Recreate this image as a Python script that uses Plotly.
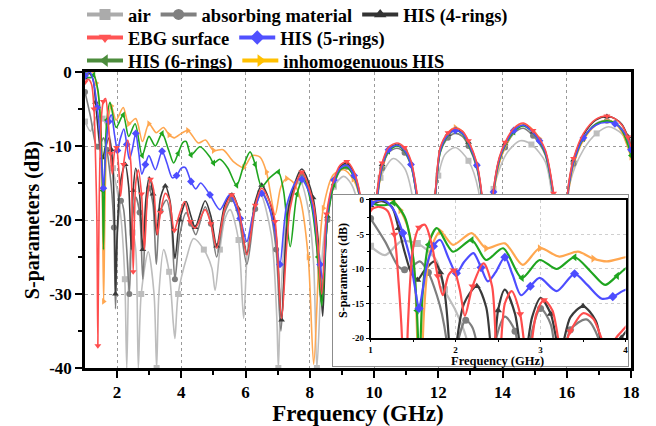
import plotly.graph_objects as go

# ---------------- data ----------------
F_AIR = [1.0,1.17,1.36,1.55,1.66,1.78,1.87,2.0,2.12,2.24,
         2.3,2.37,2.48,2.58,2.66,2.75,2.97,3.15,3.23,3.3,
         3.45,3.62,3.75,3.8,3.9,4.17,4.38,4.7,4.95,5.05,
         5.2,5.36,5.52,5.78,5.94,6.1,6.45,6.8,6.97,7.02,
         7.1,7.39,7.7,7.95,8.12,8.22,8.4,8.55,8.75,9.05,
         9.3,9.5,9.75,9.95,10.2,10.6,10.95,11.2,11.45,11.75,
         12.0,12.2,12.53,12.94,13.25,13.45,13.72,14.13,14.55,14.9,
         15.33,15.53,15.8,16.1,16.52,16.93,17.3,17.7,18.0]
S_AIR = [-6.7,-8.0,-6.0,-6.3,-7.2,-8.9,-13,-16,-19.7,-28,
         -40,-27,-21.7,-24,-40,-30,-24.3,-30,-40,-30,
         -24,-27,-34,-36,-30,-25,-22.5,-24,-26.5,-29.5,
         -24,-19.8,-18.6,-22.7,-33.3,-22,-16.4,-22,-33,-40,
         -30,-16.6,-14.8,-18.5,-26,-40,-24,-19,-15.5,-14.1,
         -15.2,-18,-30,-22,-14.3,-11.7,-13.0,-17,-30,-20,
         -14,-11.2,-10.2,-12.0,-16,-28,-15.8,-11,-9.3,-9.8,
         -12.1,-16.4,-30,-15,-10.5,-8.3,-7.4,-8.3,-10.4]

F_ABS = [1.0,1.17,1.33,1.4,1.48,1.58,1.68,1.78,1.84,1.9,
         1.95,2.02,2.12,2.2,2.3,2.38,2.46,2.58,2.7,2.8,
         2.9,3.0,3.12,3.22,3.35,3.54,3.68,3.8,3.95,4.15,
         4.3,4.45,4.74,4.92,5.1,5.35,5.57,5.78,6.04,6.3,
         6.5,6.75,6.95,7.1,7.35,7.75,8.1,8.35,8.55,8.75,
         8.95,9.15,9.38,9.57,9.8,9.95,10.1,10.25,10.45,10.71,
         10.95,11.15,11.33,11.6,11.9,12.06,12.3,12.53,12.75,12.94,
         13.2,13.35,13.55,13.72,13.9,14.08,14.35,14.65,14.95,15.15,
         15.33,15.59,15.8,16.06,16.21,16.52,16.9,17.25,17.5,17.72,
         17.9,18.0]
S_ABS = [-2.7,-6.0,-9.7,-10.1,-9.7,-8.9,-10.5,-13.8,-16.5,-21,
         -32,-21,-17.4,-18.5,-24,-30,-21,-16.9,-19,-28,
         -19,-15.7,-18,-26,-18.8,-17.3,-20,-28,-22,-19,
         -20.5,-22,-18.2,-20.5,-25,-19,-17.2,-19.5,-26,-18.5,
         -16.2,-18.5,-24,-35,-18.5,-13.8,-18.5,-31,-20,-15.3,
         -13.3,-12.8,-14.2,-17.3,-25,-34,-17.2,-13,-10.9,-10.3,
         -10.9,-12.7,-16.9,-28,-17,-10.9,-8.9,-8.3,-8.7,-10,
         -13,-17,-27,-16.4,-12.2,-10.2,-8.3,-7.6,-8.6,-9.7,
         -11.2,-17,-26,-15.7,-12.4,-9.0,-7.0,-6.6,-6.9,-7.7,
         -9.2,-10.6]

F_HIS4 = [1.0,1.13,1.25,1.33,1.4,1.48,1.55,1.63,1.75,1.82,
          1.87,1.92,1.95,2.0,2.1,2.25,2.36,2.44,2.5,2.58,
          2.7,2.8,2.9,3.0,3.12,3.23,3.35,3.5,3.65,3.8,
          3.95,4.15,4.3,4.43,4.74,4.92,5.1,5.35,5.57,5.78,
          6.04,6.3,6.5,6.75,6.95,7.12,7.35,7.75,8.1,8.3,
          8.4,8.55,8.75,8.95,9.15,9.38,9.57,9.8,9.95,10.09,
          10.25,10.45,10.71,10.95,11.15,11.33,11.6,11.9,12.06,12.3,
          12.53,12.75,12.94,13.2,13.35,13.55,13.72,13.9,14.08,14.35,
          14.65,14.95,15.15,15.33,15.59,15.8,16.06,16.21,16.52,16.9,
          17.25,17.5,17.72,17.9,18.0]
S_HIS4 = [-0.8,-0.2,-1.0,-4.1,-7.5,-10.6,-11.6,-10.3,-8.9,-10.5,
          -13.3,-20,-30,-22,-15,-12.5,-15.5,-24,-16,-13,
          -16.5,-24,-17,-14.2,-16.5,-22,-17,-15.4,-17.5,-25.2,
          -20,-17.5,-19.5,-21,-17.4,-19.5,-23.5,-18,-16.4,-18.5,
          -24.5,-17.5,-15.3,-17.5,-22,-33.5,-18,-13.1,-17,-25,
          -33,-19.5,-15,-12.8,-12.3,-13.7,-16.8,-24,-34,-16.6,
          -12.5,-10.4,-9.8,-10.4,-12.2,-16.4,-28,-16.6,-10.4,-8.4,
          -7.8,-8.2,-9.5,-12.5,-16.5,-27,-16.0,-11.7,-9.7,-7.8,
          -7.1,-8.1,-9.2,-10.7,-16.6,-26,-15.2,-11.9,-8.5,-6.5,
          -6.0,-6.3,-7.1,-8.7,-10.0]

F_EBG = [1.0,1.1,1.2,1.28,1.33,1.37,1.40,1.44,1.5,1.57,
         1.64,1.72,1.79,1.85,1.92,1.98,2.05,2.11,2.2,2.33,
         2.43,2.5,2.58,2.66,2.76,2.85,2.95,3.04,3.14,3.25,
         3.35,3.5,3.62,3.78,3.92,4.1,4.27,4.43,4.74,4.92,
         5.1,5.35,5.57,5.78,6.04,6.3,6.5,6.75,6.92,7.12,
         7.39,7.75,8.12,8.37,8.52,8.73,8.94,9.15,9.38,9.57,
         9.8,9.95,10.09,10.25,10.45,10.71,10.95,11.15,11.33,11.6,
         11.9,12.06,12.3,12.53,12.75,12.94,13.2,13.35,13.55,13.72,
         13.9,14.08,14.35,14.65,14.95,15.15,15.33,15.59,15.8,16.06,
         16.21,16.52,16.9,17.25,17.5,17.72,17.9,18.0]
S_EBG = [-1.4,-1.0,-1.6,-5,-12,-20,-37,-18,-7,-4.0,
         -3.6,-6.5,-11,-13.8,-10.8,-10.2,-13,-16.8,-12.5,-9.2,
         -12.5,-27,-15,-13.2,-16.5,-24,-16.5,-14.5,-16,-22,
         -19,-16.4,-17.2,-21.4,-19.5,-17.5,-20.2,-21.1,-18.6,-20.5,
         -23.8,-18.5,-16.6,-18.5,-24.7,-18,-15.7,-17.5,-20.2,-33.3,
         -18.4,-13.5,-18,-30,-19.2,-14.8,-12.6,-12.1,-13.5,-16.6,
         -24,-34,-16.4,-12.3,-10.2,-9.6,-10.2,-12,-16.2,-28,
         -16.5,-10.2,-8.2,-7.6,-8.0,-9.3,-12.3,-16.3,-27,-15.9,
         -11.5,-9.5,-7.6,-6.9,-7.9,-9.0,-10.5,-16.4,-26,-15.0,
         -11.7,-8.3,-6.4,-5.95,-6.3,-7.2,-8.8,-10.1]

F_HIS5 = [1.0,1.15,1.27,1.38,1.46,1.52,1.57,1.62,1.66,1.74,
          1.82,1.92,2.01,2.1,2.21,2.3,2.38,2.47,2.58,2.67,
          2.77,2.88,2.99,3.19,3.4,3.55,3.72,3.85,4.0,4.12,
          4.3,4.45,4.6,4.89,5.2,5.5,5.83,6.04,6.25,6.5,
          6.75,6.92,7.07,7.28,7.6,7.75,8.0,8.15,8.32,8.4,
          8.55,8.75,8.95,9.15,9.38,9.57,9.8,9.95,10.1,10.25,
          10.45,10.71,10.95,11.15,11.33,11.6,11.9,12.06,12.3,12.53,
          12.75,12.94,13.2,13.35,13.55,13.72,13.9,14.08,14.35,14.65,
          14.95,15.15,15.33,15.59,15.8,16.06,16.21,16.52,16.9,17.25,
          17.5,17.72,17.9,18.0]
S_HIS5 = [-0.5,0.0,-1.4,-4.8,-8.2,-12.5,-15.7,-12.5,-9.6,-6.7,
          -5.8,-8.5,-10.6,-9.0,-7.7,-9.8,-11.8,-10.5,-8.3,-10.8,
          -13.8,-12.5,-11.3,-13.2,-10.7,-12.3,-14.3,-14.0,-13.0,-12.9,
          -14.8,-15.8,-15.0,-16.6,-18.6,-16.6,-19.8,-22.9,-19,-16.4,
          -18.5,-21.6,-26,-18,-14.6,-14.5,-16.5,-20,-26,-28,
          -19,-14.6,-13.0,-12.6,-14,-17,-25,-34,-17,-12.8,
          -10.5,-9.9,-10.6,-12.5,-16.8,-28,-17,-10.6,-8.5,-7.9,
          -8.3,-9.6,-12.6,-16.6,-27,-16.2,-11.8,-9.8,-7.9,-7.2,
          -8.2,-9.3,-10.8,-16.8,-26,-15.5,-12.2,-8.9,-7.2,-6.8,
          -7.0,-7.8,-9.0,-10.5]

F_HIS6 = [1.0,1.07,1.2,1.27,1.4,1.5,1.545,1.575,1.61,1.68,
          1.78,1.97,2.19,2.36,2.56,2.78,2.99,3.19,3.4,3.6,
          3.76,3.9,4.05,4.15,4.3,4.58,4.89,5.0,5.2,5.45,
          5.72,5.95,6.14,6.3,6.5,6.75,7.02,7.18,7.39,7.6,
          7.8,8.05,8.25,8.37,8.55,8.75,8.95,9.15,9.38,9.57,
          9.8,9.95,10.1,10.25,10.45,10.71,10.95,11.15,11.33,11.6,
          11.9,12.06,12.3,12.53,12.75,12.94,13.2,13.35,13.55,13.72,
          13.9,14.08,14.35,14.65,14.95,15.15,15.33,15.59,15.8,16.06,
          16.21,16.52,16.9,17.25,17.5,17.72,17.9,18.0]
S_HIS6 = [-0.3,-0.7,-0.7,-0.4,-2.4,-8.2,-16,-24,-14,-6.5,
          -4.1,-7.5,-5.8,-8.7,-7.0,-11.3,-8.7,-10.0,-8.3,-10.5,
          -12.3,-11.0,-9.5,-9.4,-11.2,-10.1,-11.5,-12.3,-11.8,-13.0,
          -15.3,-12.5,-10.8,-12.5,-15.5,-14.3,-13.5,-16,-23.6,-16.5,
          -14.4,-18,-25,-31.6,-20,-15.2,-13.2,-12.9,-14.2,-17.2,
          -25,-34,-17.2,-13,-10.7,-10.0,-10.7,-12.6,-16.9,-28,
          -17.2,-10.8,-8.6,-7.9,-8.4,-9.8,-12.8,-16.8,-27,-16.4,
          -12.0,-10.0,-8.1,-7.3,-8.2,-9.4,-11.0,-17,-26,-15.6,
          -12.3,-9.0,-7.1,-6.6,-6.9,-7.9,-9.8,-11.3]

F_INH = [1.0,1.15,1.25,1.35,1.45,1.52,1.58,1.63,1.7,1.82,
         1.97,2.19,2.36,2.58,2.79,2.99,3.22,3.44,3.62,3.78,
         4.0,4.2,4.53,4.75,5.0,5.3,5.62,5.94,6.2,6.45,
         6.65,6.92,7.1,7.28,7.5,7.7,7.95,8.12,8.3,8.42,
         8.73,9.05,9.35,9.57,9.8,9.95,10.1,10.25,10.45,10.71,
         10.95,11.15,11.33,11.6,11.9,12.06,12.3,12.53,12.75,12.94,
         13.2,13.35,13.55,13.72,13.9,14.08,14.35,14.65,14.95,15.15,
         15.33,15.59,15.8,16.06,16.21,16.52,16.9,17.25,17.5,17.72,
         17.9,18.0]
S_INH = [-0.3,0.0,0.0,-1.5,-4.5,-11,-31,-16,-7.5,-4.6,
         -6.5,-4.8,-7.0,-6.3,-9.4,-7.0,-8.2,-7.5,-8.5,-8.9,
         -8.3,-7.9,-9.6,-9.2,-10.6,-10.5,-12.1,-12.9,-11.3,-11.5,
         -13.5,-19.3,-15.5,-14.4,-15,-17.1,-25,-39.5,-24,-18.4,
         -13.9,-13.2,-14.5,-17.1,-25,-34,-17.5,-13.2,-10.6,-9.9,
         -10.5,-12.4,-16.8,-28,-17,-10.5,-8.2,-7.5,-8.0,-9.4,
         -12.4,-16.8,-27,-16.8,-12.3,-10.2,-8.0,-7.0,-7.8,-9.0,
         -10.7,-16.8,-26,-16.0,-12.6,-9.2,-7.2,-6.5,-6.9,-8.2,
         -10.2,-11.5]

NAMES = ["air", "absorbing material", "HIS (4-rings)", "EBG surface",
         "HIS (5-rings)", "HIS (6-rings)", "inhomogenuous HIS"]

X_TICKS = [2, 4, 6, 8, 10, 12, 14, 16, 18]
Y_TICKS = [0, -10, -20, -30, -40]
Y_TICKTEXT = ["0", "-10", "-20", "-30", "-40"]
IX_TICKS = [1, 2, 3, 4]
IY_TICKS = [0, -5, -10, -15, -20]
IY_TICKTEXT = ["0", "-5", "-10", "-15", "-20"]

# ---------------- styling ----------------
FONT = "Liberation Serif"
series = [
    # name, F, S, line colour, legend colour, symbol, legend group
    (NAMES[0], F_AIR, S_AIR, "#BDBDBD", "#ABABAB", "square", "legend"),
    (NAMES[1], F_ABS, S_ABS, "#7E7E7E", "#808080", "circle", "legend"),
    (NAMES[2], F_HIS4, S_HIS4, "#3A3A3A", "#333333", "triangle-up", "legend"),
    (NAMES[6], F_INH, S_INH, "#FFA750", "#FFC000", "triangle-right", "legend3"),
    (NAMES[5], F_HIS6, S_HIS6, "#1FA51F", "#4C8C3C", "triangle-left", "legend3"),
    (NAMES[4], F_HIS5, S_HIS5, "#4D4DFF", "#5050FF", "diamond", "legend2"),
    (NAMES[3], F_EBG, S_EBG, "#FF4D4D", "#FF5555", "triangle-down", "legend2"),
]

fig = go.Figure()

# main plot traces
for name, fx, sy, col, lcol, sym, lg in series:
    fig.add_trace(go.Scatter(x=fx, y=sy, mode="lines", showlegend=False,
                             line=dict(color=col, width=1.6, shape="spline", smoothing=0.8),
                             hoverinfo="skip"))
    fig.add_trace(go.Scatter(x=fx[::3], y=sy[::3], mode="markers", showlegend=False,
                             marker=dict(symbol=sym, size=6, color=col),
                             cliponaxis=True, hoverinfo="skip"))

# inset background box (dummy subplot)
fig.add_trace(go.Scatter(x=[None], y=[None], xaxis="x2", yaxis="y2", showlegend=False))

# inset traces
for name, fx, sy, col, lcol, sym, lg in series:
    fig.add_trace(go.Scatter(x=fx, y=sy, mode="lines", showlegend=False,
                             xaxis="x3", yaxis="y3",
                             line=dict(color=col, width=2.2, shape="spline", smoothing=0.8),
                             hoverinfo="skip"))
    fig.add_trace(go.Scatter(x=fx[::3], y=sy[::3], mode="markers", showlegend=False,
                             xaxis="x3", yaxis="y3", cliponaxis=True,
                             marker=dict(symbol=sym, size=7, color=col),
                             hoverinfo="skip"))

# legend entries (ordered as in the reference)
legend_order = [0, 1, 2, 6, 5, 4, 3]
for i in legend_order:
    name, fx, sy, col, lcol, sym, lg = series[i]
    fig.add_trace(go.Scatter(x=[None], y=[None], mode="lines+markers", name=name,
                             legend=lg,
                             line=dict(color=lcol, width=4),
                             marker=dict(symbol=sym, size=11, color=lcol)))

legfont = dict(family=FONT, size=18.5, color="black", weight="bold")
def leg(y):
    return dict(x=-0.0055, y=y, xanchor="left", yanchor="middle", orientation="h",
                font=legfont, bgcolor="rgba(0,0,0,0)", itemclick=False,
                itemdoubleclick=False, traceorder="normal", tracegroupgap=0,
                itemwidth=36)

tickfont = dict(family=FONT, size=17, color="black", weight="bold")
itickfont = dict(family=FONT, size=9, color="black", weight="bold")

fig.update_layout(
    width=656, height=426,
    margin=dict(l=85, r=25, t=72, b=58, autoexpand=False),
    paper_bgcolor="white", plot_bgcolor="white",
    legend=leg(1.193), legend2=leg(1.115), legend3=leg(1.037),
    xaxis=dict(range=[1, 18], tickmode="array", tickvals=X_TICKS,
               ticks="outside", ticklen=7, tickwidth=2, tickcolor="black",
               minor=dict(tickvals=[3, 5, 7, 9, 11, 13, 15, 17], ticks="outside",
                          ticklen=4, tickwidth=1.5, tickcolor="black"),
               showline=True, mirror=True, linecolor="black", linewidth=2.5,
               showgrid=True, gridcolor="#9A9A9A", gridwidth=1, griddash="3px,3px",
               zeroline=False, tickfont=tickfont, automargin=False,
               title=dict(text="Frequency (GHz)", standoff=3,
                          font=dict(family=FONT, size=23, color="black", weight="bold"))),
    yaxis=dict(range=[-40, 0], tickmode="array", tickvals=Y_TICKS, ticktext=Y_TICKTEXT,
               ticks="outside", ticklen=7, tickwidth=2, tickcolor="black",
               minor=dict(tickvals=[-5, -15, -25, -35], ticks="outside",
                          ticklen=4, tickwidth=1.5, tickcolor="black"),
               showline=True, mirror=True, linecolor="black", linewidth=2.5,
               showgrid=True, gridcolor="#9A9A9A", gridwidth=1, griddash="3px,3px",
               zeroline=False, tickfont=tickfont, automargin=False,
               title=dict(text="S-parameters (dB)", standoff=5,
                          font=dict(family=FONT, size=20, color="black", weight="bold"))),
    xaxis2=dict(domain=[0.455, 0.995], range=[0, 1], anchor="y2",
                showline=True, mirror=True, linecolor="#8C8C8C", linewidth=1,
                showgrid=False, zeroline=False, showticklabels=False, ticks=""),
    yaxis2=dict(domain=[0.006, 0.585], range=[0, 1], anchor="x2",
                showline=True, mirror=True, linecolor="#8C8C8C", linewidth=1,
                showgrid=False, zeroline=False, showticklabels=False, ticks=""),
    xaxis3=dict(domain=[0.523, 0.990], range=[1, 4], anchor="y3",
                tickmode="array", tickvals=IX_TICKS,
                ticks="outside", ticklen=2, tickwidth=1, tickcolor="black",
                minor=dict(tickvals=[1.5, 2.5, 3.5], ticks="outside", ticklen=2,
                           tickwidth=1, tickcolor="black"),
                showline=True, mirror=True, linecolor="black", linewidth=1.5,
                showgrid=True, gridcolor="#CFCFCF", gridwidth=1, griddash="dot",
                zeroline=False, tickfont=itickfont, automargin=False,
                ticklabelstandoff=0),
    yaxis3=dict(domain=[0.101, 0.568], range=[-20, 0], anchor="x3",
                tickmode="array", tickvals=IY_TICKS, ticktext=IY_TICKTEXT,
                ticks="outside", ticklen=3, tickwidth=1, tickcolor="black",
                minor=dict(tickvals=[-2.5, -7.5, -12.5, -17.5], ticks="outside",
                           ticklen=2, tickwidth=1, tickcolor="black"),
                showline=True, mirror=True, linecolor="black", linewidth=1.5,
                showgrid=True, gridcolor="#CFCFCF", gridwidth=1, griddash="dot",
                zeroline=False, tickfont=itickfont, automargin=False),
    annotations=[
        dict(text="<b>Frequency (GHz)</b>", xref="paper", yref="paper",
             x=0.756, y=0.022, xanchor="center", yanchor="middle", showarrow=False,
             font=dict(family=FONT, size=12.5, color="black")),
        dict(text="<b>S-parameters (dB)</b>", xref="paper", yref="paper",
             x=0.4725, y=0.331, xanchor="center", yanchor="middle", showarrow=False,
             textangle=-90, font=dict(family=FONT, size=12, color="black")),
    ],
)

fig.write_html("out.html")
